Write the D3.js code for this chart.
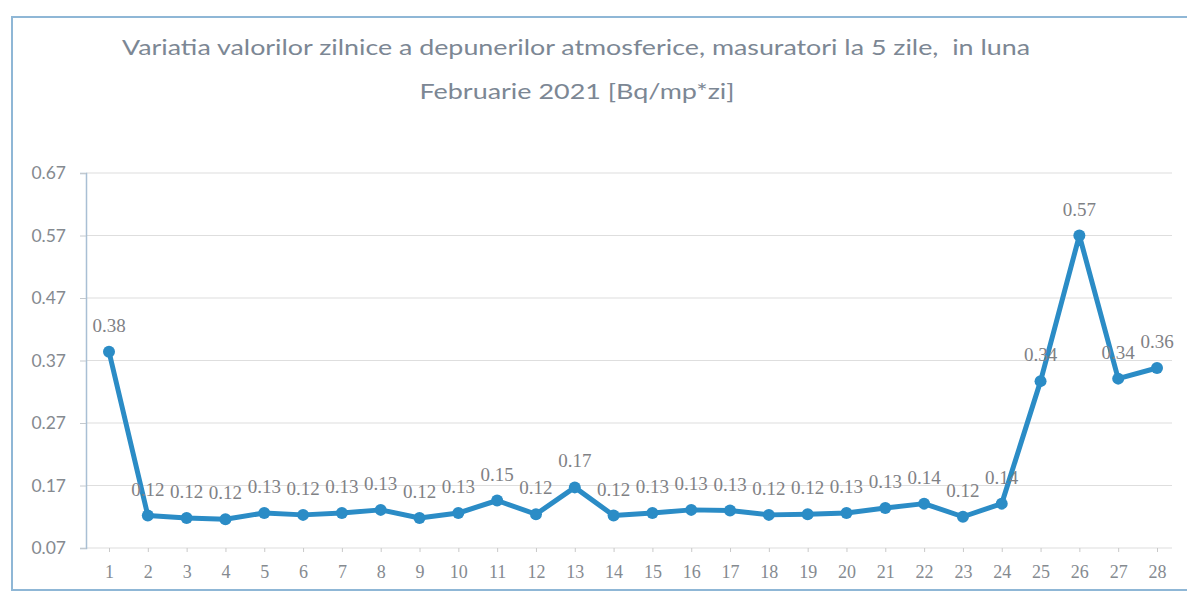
<!DOCTYPE html>
<html>
<head>
<meta charset="utf-8">
<script src="https://cdn.jsdelivr.net/npm/d3@7"></script>
<style>
  body { margin: 0; background: #fff; }
  svg { display: block; }
</style>
</head>
<body>
<script>
// zilele lunii si valorile
let days = d3.range(1, 29)
let values = [0.384, 0.122, 0.118, 0.116, 0.126, 0.123, 0.126, 0.131, 0.118, 0.126,
  0.146, 0.124, 0.167, 0.122, 0.126, 0.131, 0.130, 0.123, 0.124, 0.126,
  0.134, 0.141, 0.120, 0.141, 0.337, 0.570, 0.341, 0.358]
let yTicks = [0.07, 0.17, 0.27, 0.37, 0.47, 0.57, 0.67]
let titleLines = ['Variatia valorilor zilnice a depunerilor atmosferice, masuratori la 5 zile,  in luna',
  'Februarie 2021 [Bq/mp*zi]']
let titleWidths = [908, 315]

let width = 1187
let height = 595
let margin = { left: 86, right: 1172, top: 173, bottom: 548 }
let blue = '#2b8cc6'
let grey = '#858a90'

let svg = d3.select('body')
  .append('svg')
  .attr('width', width)
  .attr('height', height)

// cadrul
svg.append('rect')
  .attr('x', 12)
  .attr('y', 17)
  .attr('width', width + 10)
  .attr('height', 573)
  .attr('fill', 'none')
  .attr('stroke', '#8fb7d6')
  .attr('stroke-width', 2)

let scaleX = d3.scalePoint()
  .domain(days)
  .range([109, 1157])

let scaleY = d3.scaleLinear()
  .domain([0.07, 0.67])
  .range([margin.bottom, margin.top])

// titlu
svg.selectAll('text.title')
  .data(titleLines)
  .enter()
  .append('text')
  .attr('class', 'title')
  .attr('x', (d, i) => i === 0 ? 576 : 577)
  .attr('y', (d, i) => 55 + i * 44)
  .attr('text-anchor', 'middle')
  .attr('font-family', 'Lato, sans-serif')
  .attr('font-size', 21)
  .attr('fill', '#7c8794')
  .attr('xml:space', 'preserve')
  .attr('textLength', (d, i) => titleWidths[i])
  .attr('lengthAdjust', 'spacingAndGlyphs')
  .text(d => d)

// linii de grila
svg.append('g')
  .selectAll('line')
  .data(yTicks)
  .enter()
  .append('line')
  .attr('x1', margin.left)
  .attr('x2', margin.right)
  .attr('y1', d => scaleY(d))
  .attr('y2', d => scaleY(d))
  .attr('stroke', '#dedede')
  .attr('stroke-width', 1.2)

// axa Y
let yAxis = svg.append('g')
  .attr('transform', 'translate(' + margin.left + ',0)')
  .call(d3.axisLeft(scaleY).tickValues(yTicks).tickFormat(d3.format('.2f')).tickSize(6).tickPadding(14))
yAxis.select('.domain').attr('stroke', '#a9bfd4').attr('stroke-width', 1.5)
yAxis.selectAll('.tick line').attr('stroke', '#c4c9ce')
yAxis.selectAll('text')
  .attr('font-family', 'Lato, sans-serif')
  .attr('font-size', 17.5)
  .attr('fill', grey)

// axa X
let xAxis = svg.append('g')
  .attr('transform', 'translate(0,' + margin.bottom + ')')
  .call(d3.axisBottom(scaleX).tickSize(4).tickPadding(13))
xAxis.select('.domain').remove()
xAxis.selectAll('.tick line').attr('stroke', '#c9c9c9')
xAxis.selectAll('text')
  .attr('font-family', '"Liberation Serif", serif')
  .attr('font-size', 18)
  .attr('fill', grey)

// linia de date
let line = d3.line()
  .x((d, i) => scaleX(days[i]))
  .y(d => scaleY(d))

svg.append('path')
  .datum(values)
  .attr('d', line)
  .attr('fill', 'none')
  .attr('stroke', blue)
  .attr('stroke-width', 5)
  .attr('stroke-linejoin', 'round')

svg.selectAll('circle')
  .data(values)
  .enter()
  .append('circle')
  .attr('cx', (d, i) => scaleX(days[i]))
  .attr('cy', d => scaleY(d))
  .attr('r', 6)
  .attr('fill', blue)

// etichete de date
svg.selectAll('text.lbl')
  .data(values)
  .enter()
  .append('text')
  .attr('class', 'lbl')
  .attr('x', (d, i) => scaleX(days[i]))
  .attr('y', d => scaleY(d) - 20)
  .attr('text-anchor', 'middle')
  .attr('font-family', '"Liberation Serif", serif')
  .attr('font-size', 19)
  .attr('fill', '#7f8185')
  .text(d => d3.format('.2f')(d))
</script>
</body>
</html>
